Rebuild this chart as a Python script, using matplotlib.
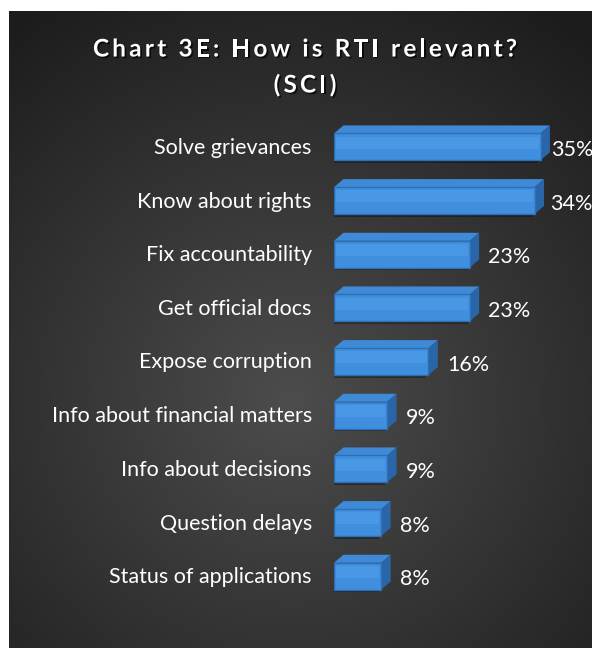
import numpy as np
import matplotlib
matplotlib.use("Agg")
from matplotlib import pyplot as plt
from matplotlib.patches import Polygon, Rectangle
from matplotlib import patheffects as pe

# Data
categories = ["Solve grievances", "Know about rights", "Fix accountability",
              "Get official docs", "Expose corruption", "Info about financial matters",
              "Info about decisions", "Question delays", "Status of applications"]
values = [35, 34, 23, 23, 16, 9, 9, 8, 8]
value_labels = ["35%", "34%", "23%", "23%", "16%", "9%", "9%", "8%", "8%"]
title_lines = ["Chart 3E: How is RTI relevant?", "(SCI)"]

FONT = "Lato"
W, H = 592, 648
fig = plt.figure(figsize=(W / 100, H / 100), dpi=100)
fig.patch.set_facecolor("white")

# dark radial gradient panel
bg = fig.add_axes([9 / W, -0.01, 1.02, 1.01 - 11 / H])
bg.set_axis_off()
yy, xx = np.mgrid[0:645, 0:600]
d = np.sqrt(((xx - 280) / 420.0) ** 2 + ((yy - 390) / 420.0) ** 2)
shade = np.clip(0.30 - 0.17 * d, 0.11, 0.30)
bg.imshow(np.dstack([shade] * 3), aspect="auto", extent=[0, 1, 0, 1], origin="upper")
bg.set_xlim(0, 1)
bg.set_ylim(0, 1)

# title with letter spacing, drawn char by char
renderer = fig.canvas.get_renderer()
shadow = [pe.SimplePatchShadow(offset=(1.2, -1.2), shadow_rgbFace="black", alpha=0.7), pe.Normal()]
tkw = dict(color="white", fontsize=17.5, fontweight="bold", family=FONT)


def text_width(s):
    t = fig.text(0, 0, s + "|", **tkw)
    r = fig.text(0, 0, "|", **tkw)
    w = t.get_window_extent(renderer).width - r.get_window_extent(renderer).width
    t.remove()
    r.remove()
    return w


spacing = (424 - text_width(title_lines[0])) / (len(title_lines[0]) - 1)
for line, ypix in zip(title_lines, [49, 85]):
    total = text_width(line) + spacing * (len(line) - 1)
    x0 = 305 - total / 2
    for k, ch in enumerate(line):
        if ch == " ":
            continue
        xk = x0 + text_width(line[:k]) + spacing * k
        fig.text(xk / W, 1 - ypix / H, ch, ha="left", va="center", path_effects=shadow, **tkw)

# main axes: x=0 at pixel 334, 5.9 px per percent
px = 5.9
ax = fig.add_axes([334 / W, 1 - 602 / H, (W - 334) / W, (602 - 119) / H])
ax.set_facecolor("none")
ax.set_xlim(0, (W - 334) / px)
ax.set_ylim(len(categories) - 0.5, -0.5)
for s in ax.spines.values():
    s.set_visible(False)
ax.set_xticks([])
ax.set_yticks(range(len(categories)))
ax.set_yticklabels(categories, color="white", fontsize=15.5, family=FONT)
ax.tick_params(axis="y", length=0, pad=16)

h = 0.5
dx = 1.6     # depth in percent units
dy = 0.15    # depth in row units
for i, v in enumerate(values):
    y0 = i - h / 2 + 0.02
    # shadow
    ax.add_patch(Rectangle((-0.35, y0 + 0.05), v, h, color="black", alpha=0.35, lw=0, zorder=1))
    # top face
    ax.add_patch(Polygon([(0, y0), (dx, y0 - dy), (v + dx, y0 - dy), (v, y0)],
                         closed=True, facecolor="#3f8ad6", edgecolor="none", zorder=3))
    # side face
    ax.add_patch(Polygon([(v, y0), (v + dx, y0 - dy), (v + dx, y0 + h - dy), (v, y0 + h)],
                         closed=True, facecolor="#2a65a8", edgecolor="none", zorder=3))
    # label gap, pulled in when it would run past the right edge
    room = W - 42 - (334 + (v + dx) * px)
    off = max(0.5, min(6.5, room * 0.72))
    ax.annotate(value_labels[i], (v + dx, i), xytext=(off, -3), textcoords="offset points",
                color="white", fontsize=15.5, family=FONT, va="center", ha="left",
                annotation_clip=False)

# front faces
bars = ax.barh(range(len(categories)), values, height=h, left=0, color="#3f8fde", zorder=4)
for b in bars:
    b.set_y(b.get_y() + 0.02)
    b.set_edgecolor("#2f6db4")
    b.set_linewidth(1.0)
# highlight strip along front face
for i, v in enumerate(values):
    y0 = i - h / 2 + 0.02
    ax.add_patch(Rectangle((0.3, y0 + 0.06), v - 0.6, h * 0.45, color="#56a4ee", alpha=0.45, lw=0, zorder=5))

fig.savefig("out.png", dpi=100, facecolor="white")
